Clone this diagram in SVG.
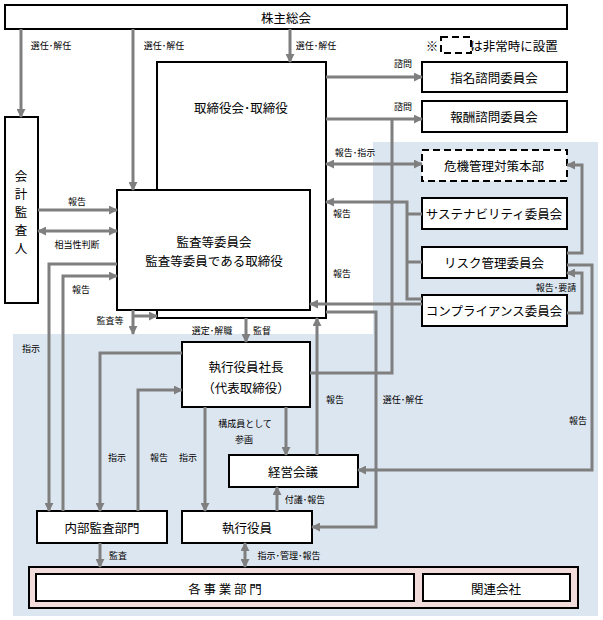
<svg xmlns="http://www.w3.org/2000/svg" width="603" height="620" viewBox="0 0 603 620">
<style>
.bx{fill:#fff;stroke:#000;stroke-width:2}
.dash{fill:#fff;stroke:#000;stroke-width:2;stroke-dasharray:7 4}
.t{font-family:"Noto Sans CJK JP","Noto Sans CJK SC",sans-serif;font-size:12.5px;fill:#000;text-anchor:middle;dominant-baseline:central}
.l{font-family:"Noto Sans CJK JP","Noto Sans CJK SC",sans-serif;font-size:9px;fill:#000;text-anchor:middle;dominant-baseline:central}
.c{fill:none;stroke:#7f7f7f;stroke-width:3}
.a{marker-end:url(#ah)}
.d{marker-start:url(#ah);marker-end:url(#ah)}
</style>
<defs>
<marker id="ah" viewBox="0 0 10 10" refX="9" refY="5" markerWidth="9" markerHeight="9" markerUnits="userSpaceOnUse" orient="auto-start-reverse">
<path d="M0,0 L10,5 L0,10 z" fill="#7f7f7f"/>
</marker>
</defs>
<rect width="603" height="620" fill="#fff"/>
<path d="M373,142 H598 V616 H13 V334 H373 Z" fill="#dce6f1"/>

<g id="shareholders"><rect class="bx" x="5" y="5" width="562" height="24"/><text class="t" x="286" y="17">株主総会</text></g>
<g id="legend"><text class="t" x="432" y="45">※</text><rect class="dash" x="441" y="37" width="30" height="16"/><text class="t" x="514" y="45">は非常時に設置</text></g>
<g id="auditor"><rect class="bx" x="5" y="117" width="33" height="186"/>
<text class="t" x="21" y="175">会</text><text class="t" x="21" y="193">計</text><text class="t" x="21" y="211">監</text><text class="t" x="21" y="229">査</text><text class="t" x="21" y="247">人</text></g>
<g id="board"><rect class="bx" x="157" y="62" width="169" height="256"/><text class="t" x="241" y="107">取締役会･取締役</text></g>
<g id="auditcommittee"><rect class="bx" x="117" y="190" width="193" height="120"/><text class="t" x="214" y="241">監査等委員会</text><text class="t" x="214" y="260">監査等委員である取締役</text></g>
<g id="nomination"><rect class="bx" x="422" y="62" width="145" height="30"/><text class="t" x="494" y="77">指名諮問委員会</text></g>
<g id="remuneration"><rect class="bx" x="422" y="101" width="145" height="31"/><text class="t" x="494" y="116">報酬諮問委員会</text></g>
<g id="crisis"><rect class="dash" x="422" y="150" width="145" height="31"/><text class="t" x="494" y="165">危機管理対策本部</text></g>
<g id="sustainability"><rect class="bx" x="422" y="198" width="145" height="31"/><text class="t" x="494" y="213">サステナビリティ委員会</text></g>
<g id="risk"><rect class="bx" x="422" y="247" width="145" height="31"/><text class="t" x="494" y="262">リスク管理委員会</text></g>
<g id="compliance"><rect class="bx" x="422" y="295" width="145" height="31"/><text class="t" x="494" y="310">コンプライアンス委員会</text></g>
<g id="president"><rect class="bx" x="182" y="342" width="128" height="65"/><text class="t" x="246" y="366">執行役員社長</text><text class="t" x="246" y="387">（代表取締役）</text></g>
<g id="management"><rect class="bx" x="229" y="455" width="129" height="32"/><text class="t" x="293" y="471">経営会議</text></g>
<g id="internalaudit"><rect class="bx" x="37" y="511" width="130" height="32"/><text class="t" x="102" y="527">内部監査部門</text></g>
<g id="officers"><rect class="bx" x="182" y="511" width="130" height="32"/><text class="t" x="247" y="527">執行役員</text></g>
<g id="business"><rect x="29" y="567" width="549" height="41" fill="#f2dcdb" stroke="#000" stroke-width="2"/>
<rect class="bx" x="36" y="574" width="378" height="27"/><text class="t" x="225" y="588">各 事 業 部 門</text>
<rect class="bx" x="423" y="574" width="147" height="27"/><text class="t" x="496" y="588">関連会社</text></g>

<g id="connectors">
<path class="c a" d="M21,29 V117"/>
<path class="c a" d="M133,29 V190"/>
<path class="c a" d="M290,29 V62"/>
<path class="c a" d="M38,210 H117"/>
<path class="c d" d="M38,231 H117"/>
<path class="c a" d="M117,264 H49 V511"/>
<path class="c a" d="M63,511 V276 H117"/>
<path class="c a" d="M133,310 V334"/>
<path class="c a" d="M133,316 H157"/>
<path class="c a" d="M246,318 V342"/>
<path class="c a" d="M182,353 H100 V511"/>
<path class="c a" d="M138,511 V390 H182"/>
<path class="c a" d="M205,407 V511"/>
<path class="c a" d="M286,407 V455"/>
<path class="c a" d="M277,511 V487"/>
<path class="c a" d="M317,455 V318"/>
<path class="c a" d="M326,312 H376 V527 H312"/>
<path class="c" d="M392,119 V373 H310"/>
<path class="c a" d="M326,77 H422"/>
<path class="c a" d="M326,119 H422"/>
<path class="c d" d="M326,164 H422"/>
<path class="c" d="M422,214 H407 M422,262 H407"/>
<path class="c a" d="M422,299 H407 V202 H326"/>
<path class="c a" d="M422,304 H310"/>
<path class="c a" d="M567,253 H582 V165 H567"/>
<path class="c a" d="M567,313 H582 V273 H567"/>
<path class="c a" d="M567,265 H592 V470 H358"/>
<path class="c a" d="M100,543 V567"/>
<path class="c d" d="M245,543 V567"/>
</g>

<g id="labels">
<text class="l" x="51" y="45">選任･解任</text>
<text class="l" x="164" y="45">選任･解任</text>
<text class="l" x="316" y="45">選任･解任</text>
<text class="l" x="403" y="63">諮問</text>
<text class="l" x="403" y="106">諮問</text>
<text class="l" x="355" y="152">報告･指示</text>
<text class="l" x="342" y="213">報告</text>
<text class="l" x="342" y="273">報告</text>
<text class="l" x="556" y="287">報告･要請</text>
<text class="l" x="77" y="201">報告</text>
<text class="l" x="77" y="244">相当性判断</text>
<text class="l" x="81" y="289">報告</text>
<text class="l" x="110" y="320">監査等</text>
<text class="l" x="31" y="348">指示</text>
<text class="l" x="212" y="330">選定･解職</text>
<text class="l" x="262" y="330">監督</text>
<text class="l" x="117" y="457">指示</text>
<text class="l" x="159" y="457">報告</text>
<text class="l" x="188" y="457">指示</text>
<text class="l" x="245" y="423">構成員として</text>
<text class="l" x="244" y="439">参画</text>
<text class="l" x="335" y="399">報告</text>
<text class="l" x="403" y="399">選任･解任</text>
<text class="l" x="578" y="420">報告</text>
<text class="l" x="305" y="499">付議･報告</text>
<text class="l" x="118" y="555">監査</text>
<text class="l" x="289" y="555">指示･管理･報告</text>
</g>
</svg>
